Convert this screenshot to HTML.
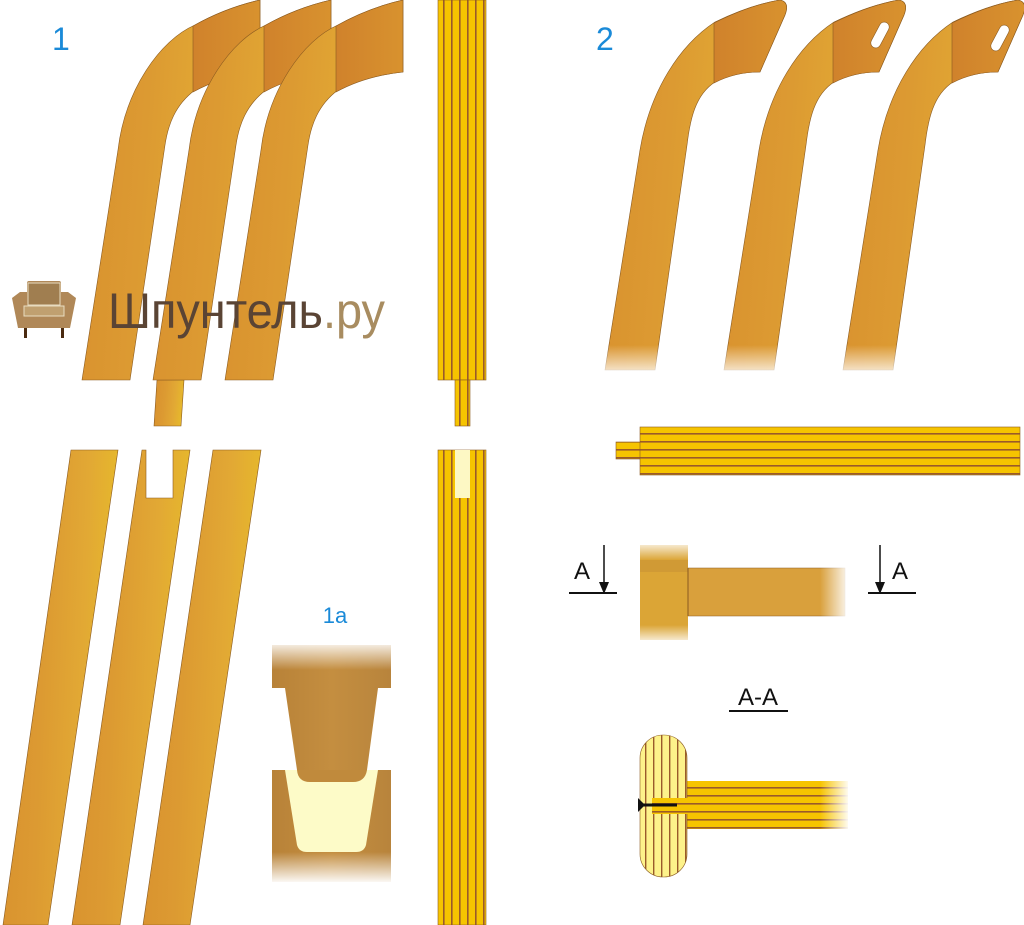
<!DOCTYPE html>
<html><head><meta charset="utf-8"><style>
html,body{margin:0;padding:0;background:#fff;width:1024px;height:925px;overflow:hidden}
svg{display:block}
text{font-family:"Liberation Sans",sans-serif}
</style></head><body>
<svg width="1024" height="925" viewBox="0 0 1024 925" xmlns="http://www.w3.org/2000/svg">
<defs>
<linearGradient id="wood" x1="0" y1="0" x2="1" y2="0.15">
<stop offset="0" stop-color="#d8902e"/><stop offset="0.4" stop-color="#dc9a32"/><stop offset="0.75" stop-color="#e2a934"/><stop offset="1" stop-color="#e6b82c"/>
</linearGradient>
<linearGradient id="dark" x1="0" y1="0" x2="1" y2="0">
<stop offset="0" stop-color="#d0822c"/><stop offset="1" stop-color="#d8922e"/>
</linearGradient>
<linearGradient id="fadeB" x1="0" y1="0" x2="0" y2="1"><stop offset="0" stop-color="#fff" stop-opacity="0"/><stop offset="1" stop-color="#fff"/></linearGradient>
<linearGradient id="fadeT" x1="0" y1="1" x2="0" y2="0"><stop offset="0" stop-color="#fff" stop-opacity="0"/><stop offset="1" stop-color="#fff"/></linearGradient>
<linearGradient id="fadeR" x1="0" y1="0" x2="1" y2="0"><stop offset="0" stop-color="#fff" stop-opacity="0"/><stop offset="1" stop-color="#fff"/></linearGradient>
<linearGradient id="oak" x1="0" y1="0" x2="1" y2="0"><stop offset="0" stop-color="#b88238"/><stop offset="0.5" stop-color="#c48e40"/><stop offset="1" stop-color="#b8843c"/></linearGradient>
<pattern id="vstripe" x="438" y="0" width="8" height="10" patternUnits="userSpaceOnUse"><rect width="8" height="10" fill="#f6c400"/><rect x="5" width="1.6" height="10" fill="#9a5a2a"/></pattern>
<pattern id="hstripe" x="0" y="427" width="10" height="8" patternUnits="userSpaceOnUse"><rect width="10" height="8" fill="#f6c400"/><rect y="6" width="10" height="1.6" fill="#9a5a2a"/></pattern>
<pattern id="hstripe2" x="0" y="781" width="10" height="8" patternUnits="userSpaceOnUse"><rect width="10" height="8" fill="#f6c400"/><rect y="6" width="10" height="1.6" fill="#9a5a2a"/></pattern>
<pattern id="vstripe2" x="640" y="0" width="8" height="10" patternUnits="userSpaceOnUse"><rect width="8" height="10" fill="#fdf28a"/><rect x="5" width="1.4" height="10" fill="#9a5a2a"/></pattern>
</defs>

<text x="52" y="50" font-size="32" fill="#1a8ad8">1</text>
<text x="596" y="50" font-size="32" fill="#1a8ad8">2</text>

<g stroke="#8a5a20" stroke-width="0.6">
<path d="M82,380 L118,150 C125,90 160,40 195,25 Q225,8 260,0 L260,72 Q222,76 195,90 C175,105 168,125 165,145 L130,380 Z" fill="url(#wood)"/>
<path d="M193,26 Q225,8 260,0 L260,72 Q222,76 193,92 Z" fill="url(#dark)"/>
</g>
<g transform="translate(71,0)" stroke="#8a5a20" stroke-width="0.6">
<path d="M86,380 L83,426 L110,426 L113,380 Z" fill="url(#wood)"/>
<path d="M82,380 L118,150 C125,90 160,40 195,25 Q225,8 260,0 L260,72 Q222,76 195,90 C175,105 168,125 165,145 L130,380 Z" fill="url(#wood)"/>
<path d="M193,26 Q225,8 260,0 L260,72 Q222,76 193,92 Z" fill="url(#dark)"/>
</g>
<g transform="translate(143,0)" stroke="#8a5a20" stroke-width="0.6">
<path d="M82,380 L118,150 C125,90 160,40 195,25 Q225,8 260,0 L260,72 Q222,76 195,90 C175,105 168,125 165,145 L130,380 Z" fill="url(#wood)"/>
<path d="M193,26 Q225,8 260,0 L260,72 Q222,76 193,92 Z" fill="url(#dark)"/>
</g>

<rect x="438" y="0" width="48" height="380" fill="url(#vstripe)" stroke="#8a5a20" stroke-width="0.6"/>
<rect x="455" y="380" width="15" height="46" fill="url(#vstripe)" stroke="#8a5a20" stroke-width="0.6"/>
<rect x="438" y="450" width="48" height="475" fill="url(#vstripe)" stroke="#8a5a20" stroke-width="0.6"/>
<rect x="455" y="450" width="15" height="48" fill="#fdf8c4"/>

<g stroke="#8a5a20" stroke-width="0.6" fill="url(#wood)">
<path d="M71,450 L118,450 L48,925 L3,925 Z"/>
<path d="M142,450 L146,450 L146,498 L173,498 L173,450 L190,450 L120,925 L72,925 Z"/>
<path d="M213,450 L261,450 L190,925 L143,925 Z"/>
</g>

<path d="M272,645 L391,645 L391,688 L378,688 L367,770 Q365,782 353,782 L310,782 Q298,782 297,770 L285,688 L272,688 Z" fill="url(#oak)"/>
<rect x="272" y="640" width="119" height="30" fill="url(#fadeT)"/>
<rect x="272" y="770" width="119" height="112" fill="url(#oak)"/>
<path d="M285,770 L378,770 L366,845 Q364,852 356,852 L307,852 Q299,852 297,845 Z" fill="#fdfbc8"/>
<path d="M297,770 Q298,782 310,782 L353,782 Q365,782 367,770 Z" fill="#c08a3c"/>
<rect x="272" y="852" width="119" height="32" fill="url(#fadeB)"/>
<text x="335" y="623" font-size="22" fill="#1a8ad8" text-anchor="middle">1a</text>

<g>
<path d="M12,298 L20,292 L27,292 L27,283 Q27,281 29,281 L59,281 Q61,281 61,283 L61,292 L68,292 L76,298 L70,328 L18,328 Z" fill="#b08858"/>
<rect x="28" y="283" width="32" height="22" fill="#a07e50" stroke="#e8dcc0" stroke-width="1"/>
<rect x="24" y="306" width="40" height="10" fill="#c0a070" stroke="#e8dcc0" stroke-width="1"/>
<rect x="24" y="328" width="3" height="10" fill="#4a2a10"/>
<rect x="61" y="328" width="3" height="10" fill="#4a2a10"/>
<text x="108" y="328" font-size="50" fill="#5a4434" textLength="277" lengthAdjust="spacingAndGlyphs">Шпунтель<tspan fill="#a88c60">.ру</tspan></text>
</g>

<g stroke="#8a5a20" stroke-width="0.6">
<g>
<path d="M605,370 L640,150 C650,90 680,45 715,22 Q750,5 780,0 Q790,2 785,15 L760,72 Q735,72 715,82 C695,95 690,120 687,145 L655,370 Z" fill="url(#wood)"/>
<path d="M714,23 Q750,5 780,0 Q790,2 785,15 L760,72 Q735,72 714,83 Z" fill="url(#dark)"/>
</g>
<g transform="translate(119,0)">
<path d="M605,370 L640,150 C650,90 680,45 715,22 Q750,5 780,0 Q790,2 785,15 L760,72 Q735,72 715,82 C695,95 690,120 687,145 L655,370 Z" fill="url(#wood)"/>
<path d="M714,23 Q750,5 780,0 Q790,2 785,15 L760,72 Q735,72 714,83 Z" fill="url(#dark)"/>
<rect x="747" y="30" width="28" height="10" rx="5" fill="#fff" transform="rotate(-62 761 35)"/>
</g>
<g transform="translate(238,0)">
<path d="M605,370 L640,150 C650,90 680,45 715,22 Q750,5 780,0 Q790,2 785,15 L760,72 Q735,72 715,82 C695,95 690,120 687,145 L655,370 Z" fill="url(#wood)"/>
<path d="M714,23 Q750,5 780,0 Q790,2 785,15 L760,72 Q735,72 714,83 Z" fill="url(#dark)"/>
<rect x="748" y="33" width="28" height="10" rx="5" fill="#fff" transform="rotate(-62 762 38)"/>
</g>
</g>
<rect x="590" y="345" width="434" height="35" fill="url(#fadeB)"/>

<rect x="616" y="442" width="30" height="17" fill="url(#hstripe)" stroke="#8a5a20" stroke-width="0.6"/>
<rect x="640" y="427" width="380" height="48" fill="url(#hstripe)" stroke="#8a5a20" stroke-width="0.6"/>

<text x="574" y="579" font-size="24" fill="#111">A</text>
<line x1="604" y1="545" x2="604" y2="584" stroke="#111" stroke-width="1.5"/>
<path d="M599,582 L609,582 L604,594 Z" fill="#111"/>
<line x1="569" y1="593" x2="617" y2="593" stroke="#111" stroke-width="2"/>
<text x="892" y="579" font-size="24" fill="#111">A</text>
<line x1="880" y1="545" x2="880" y2="584" stroke="#111" stroke-width="1.5"/>
<path d="M875,582 L885,582 L880,594 Z" fill="#111"/>
<line x1="868" y1="593" x2="916" y2="593" stroke="#111" stroke-width="2"/>

<rect x="640" y="545" width="48" height="95" fill="#dba536"/>
<rect x="640" y="560" width="48" height="12" fill="#c89236" opacity="0.6"/>
<rect x="688" y="568" width="157" height="48" fill="#d9a03c" stroke="#8a5a20" stroke-width="0.5"/>
<line x1="688" y1="568" x2="688" y2="616" stroke="#8a5a20"/>
<rect x="640" y="540" width="50" height="20" fill="url(#fadeT)"/>
<rect x="640" y="625" width="50" height="20" fill="url(#fadeB)"/>
<rect x="820" y="565" width="30" height="55" fill="url(#fadeR)"/>

<text x="758" y="705" font-size="24" fill="#111" text-anchor="middle">A-A</text>
<line x1="729" y1="711" x2="788" y2="711" stroke="#111" stroke-width="2"/>
<rect x="687" y="781" width="161" height="48" fill="url(#hstripe2)"/>
<rect x="820" y="778" width="30" height="55" fill="url(#fadeR)"/>
<rect x="640" y="735" width="47" height="142" rx="23" fill="url(#vstripe2)" stroke="#8a5a20" stroke-width="0.6"/>
<rect x="652" y="798" width="36" height="16" fill="url(#hstripe2)"/>
<line x1="640" y1="805" x2="677" y2="805" stroke="#111" stroke-width="3"/>
<path d="M638,798 L645,805 L638,812 Z" fill="#111"/>
</svg>
</body></html>
